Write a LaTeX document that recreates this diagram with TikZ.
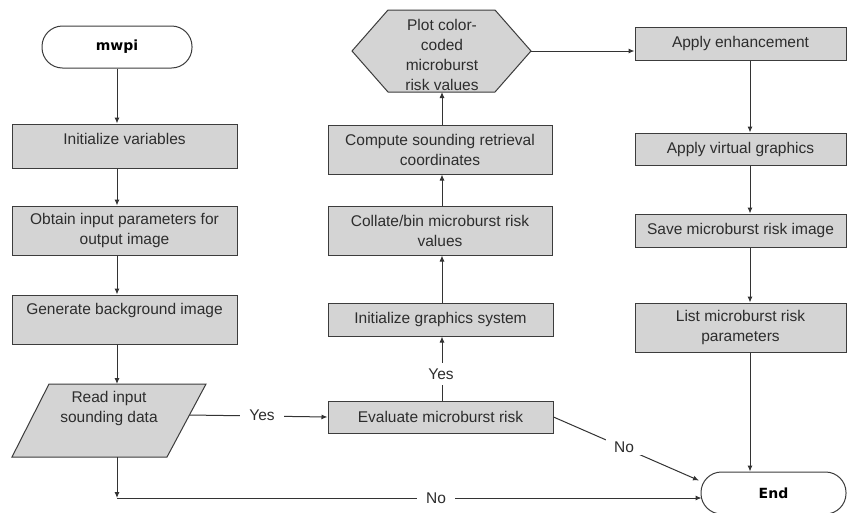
\documentclass[tikz,border=0pt]{standalone}
\usepackage{fontspec}
\setmainfont{Liberation Sans}
\newfontfamily\termfont{DejaVu Sans}
\usetikzlibrary{arrows.meta}
\definecolor{boxgray}{RGB}{212,212,212}
\definecolor{edgegray}{RGB}{60,60,60}
\definecolor{txtgray}{RGB}{45,45,45}
\begin{document}
\begin{tikzpicture}[x=1pt,y=-1pt,
  box/.style={draw=edgegray, fill=boxgray, line width=1pt, inner sep=0pt, align=center,
    text=txtgray, font=\fontsize{15.5}{20}\selectfont},
  txt/.style={inner sep=0pt, align=center, text=txtgray, font=\fontsize{15.5}{20}\selectfont},
  term/.style={draw=edgegray, fill=white, line width=1pt, rounded corners=20.5pt,
    minimum height=42pt, inner sep=0pt, font=\termfont\bfseries\fontsize{14}{16}\selectfont, text=black},
  arr/.style={draw=black!80, line width=1pt, -{Latex[length=6pt,width=5pt]}},
  lab/.style={fill=white, inner xsep=9pt, inner ysep=6pt, text=txtgray, font=\fontsize{15.5}{20}\selectfont}]
\useasboundingbox (0,0) rectangle (848,512);
\fill[white] (0,0) rectangle (848,512);

% left column
\node[term, minimum width=150pt] (mwpi) at (117,47) {mwpi};
\node[box, minimum width=225pt, minimum height=44pt] (init) at (124.5,146) {};
\node[txt] (initT) at (124.5,139) {Initialize variables};
\node[box, minimum width=225pt, minimum height=49pt] (obtain) at (124.5,230.5) {Obtain input parameters for\\output image};
\node[box, minimum width=225pt, minimum height=49pt] (gen) at (124.5,319.5) {};
\node[txt] (genT) at (124.5,310) {Generate background image};
\draw[draw=edgegray, fill=boxgray, line width=1pt] (49,384) -- (206,384) -- (167,457) -- (12,457) -- cycle;
\node[txt] (read) at (109,408) {Read input\\sounding data};
\coordinate (readTop) at (117,384);
\coordinate (readBot) at (117,457);
\coordinate (readR) at (189.5,415);
\coordinate (corner) at (117,498);

% middle column
\node[box, minimum width=225pt, minimum height=32pt] (eval) at (440.5,417) {Evaluate microburst risk};
\node[box, minimum width=225pt, minimum height=33pt] (igs) at (440.5,319.5) {Initialize graphics system};
\node[box, minimum width=224pt, minimum height=49pt] (coll) at (440,230.5) {Collate/bin microburst risk\\values};
\node[box, minimum width=224pt, minimum height=49pt] (comp) at (440,149.5) {Compute sounding retrieval\\coordinates};
\draw[draw=edgegray, fill=boxgray, line width=1pt] (352,51) -- (388,10) -- (495,10) -- (531,51) -- (495,92) -- (388,92) -- cycle;
\node[txt] (plot) at (442,55) {Plot color-\\coded\\microburst\\risk values};
\coordinate (hexB) at (442,92);
\coordinate (hexR) at (531,51);
\coordinate (mc) at (442,0);

% right column
\node[box, minimum width=211pt, minimum height=33pt] (enh) at (740.5,43.5) {Apply enhancement};
\node[box, minimum width=211pt, minimum height=32pt] (virt) at (740.5,149) {Apply virtual graphics};
\node[box, minimum width=211pt, minimum height=33pt] (save) at (740.5,230.5) {Save microburst risk image};
\node[box, minimum width=211pt, minimum height=49pt] (list) at (740.5,327.5) {List microburst risk\\parameters};
\node[term, minimum width=145pt] (endn) at (773.5,493) {End};
\coordinate (rc) at (750,0);
\coordinate (endNW) at (699,480.5);
\coordinate (endW) at (701.5,498);

% connectors left
\draw[arr] (mwpi.south) -- (mwpi.south |- init.north);
\draw[arr] (init.south -| mwpi.south) -- (obtain.north -| mwpi.south);
\draw[arr] (obtain.south -| mwpi.south) -- (gen.north -| mwpi.south);
\draw[arr] (gen.south -| mwpi.south) -- (readTop);
\draw[arr] (readBot) -- (corner);
\draw[arr] (corner) -- (endW);
\node[lab] (noB) at (436,498) {No};
\draw[arr] (readR) -- (eval.west);
\node[lab] (yesA) at (262,415) {Yes};

% connectors middle
\draw[arr] (eval.north -| mc) -- (igs.south -| mc);
\node[lab, inner xsep=3pt] (yesB) at (441,374) {Yes};
\draw[arr] (igs.north -| mc) -- (coll.south -| mc);
\draw[arr] (coll.north -| mc) -- (comp.south -| mc);
\draw[arr] (comp.north -| mc) -- (hexB);
\draw[arr] (hexR) -- (hexR -| enh.west);
\draw[arr] (eval.east) -- (endNW);
\node[lab, inner xsep=8pt, inner ysep=3pt] (noA) at (624,447) {No};

% connectors right
\draw[arr] (enh.south -| rc) -- (virt.north -| rc);
\draw[arr] (virt.south -| rc) -- (save.north -| rc);
\draw[arr] (save.south -| rc) -- (list.north -| rc);
\draw[arr] (list.south -| rc) -- (rc |- endn.north);
\end{tikzpicture}
\end{document}
